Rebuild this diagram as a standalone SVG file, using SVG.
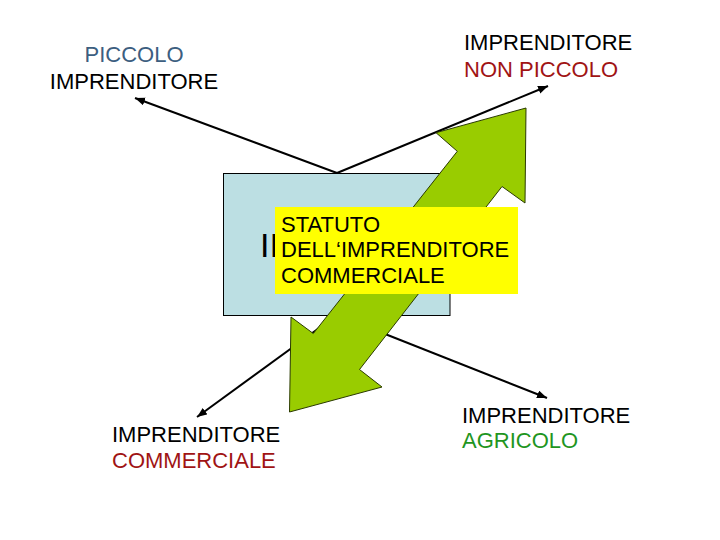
<svg xmlns="http://www.w3.org/2000/svg" width="720" height="540" viewBox="0 0 720 540">
<defs>
<style>
.lbl{font-family:"Liberation Sans",Arial,sans-serif;font-size:22px;fill:#000}
.blue{fill:#3C5E80}
.red{fill:#A01414}
.green{fill:#1F961F}
.conn{stroke:#000;stroke-width:2;fill:none;marker-end:url(#ah)}
</style>
<marker id="ah" markerUnits="userSpaceOnUse" markerWidth="12" markerHeight="10" refX="10" refY="4" orient="auto">
<path d="M0,0 L10,4 L0,8 Z" fill="#000"/>
</marker>
</defs>
<rect width="720" height="540" fill="#fff"/>
<g id="centre">
<rect x="223.5" y="173.5" width="226.5" height="142" fill="#BCDFE3" stroke="#000" stroke-width="1"/>
<text x="260" y="256.5" font-family="Liberation Sans, Arial, sans-serif" font-size="34" fill="#000">II</text>
</g>
<g id="connectors">
<line class="conn" x1="337" y1="173" x2="135" y2="98"/>
<line class="conn" x1="337" y1="173" x2="548" y2="86"/>
<line class="conn" x1="337" y1="315" x2="197" y2="417"/>
<line class="conn" x1="337" y1="315" x2="547" y2="398"/>
</g>
<g id="double-arrow">
<polygon points="526,108 525,203 502,186.5 359.5,369.5 382,387 289.5,412 291,317 313.3,333.5 457.3,151.3 436,132.7" fill="#99CC00" stroke="#2A3A00" stroke-width="1"/>
</g>
<g id="statuto">
<rect x="275" y="207" width="243" height="87" fill="#FFFF00"/>
<text class="lbl" x="281" y="232">STATUTO</text>
<text class="lbl" x="281" y="257">DELL‘IMPRENDITORE</text>
<text class="lbl" x="281" y="283">COMMERCIALE</text>
</g>
<g id="piccolo">
<text class="lbl blue" x="134" y="62" text-anchor="middle">PICCOLO</text>
<text class="lbl" x="134" y="89" text-anchor="middle">IMPRENDITORE</text>
</g>
<g id="non-piccolo">
<text class="lbl" x="464" y="50">IMPRENDITORE</text>
<text class="lbl red" x="464" y="77">NON PICCOLO</text>
</g>
<g id="commerciale">
<text class="lbl" x="112" y="442">IMPRENDITORE</text>
<text class="lbl red" x="112" y="468">COMMERCIALE</text>
</g>
<g id="agricolo">
<text class="lbl" x="462" y="423">IMPRENDITORE</text>
<text class="lbl green" x="462" y="448">AGRICOLO</text>
</g>
</svg>
